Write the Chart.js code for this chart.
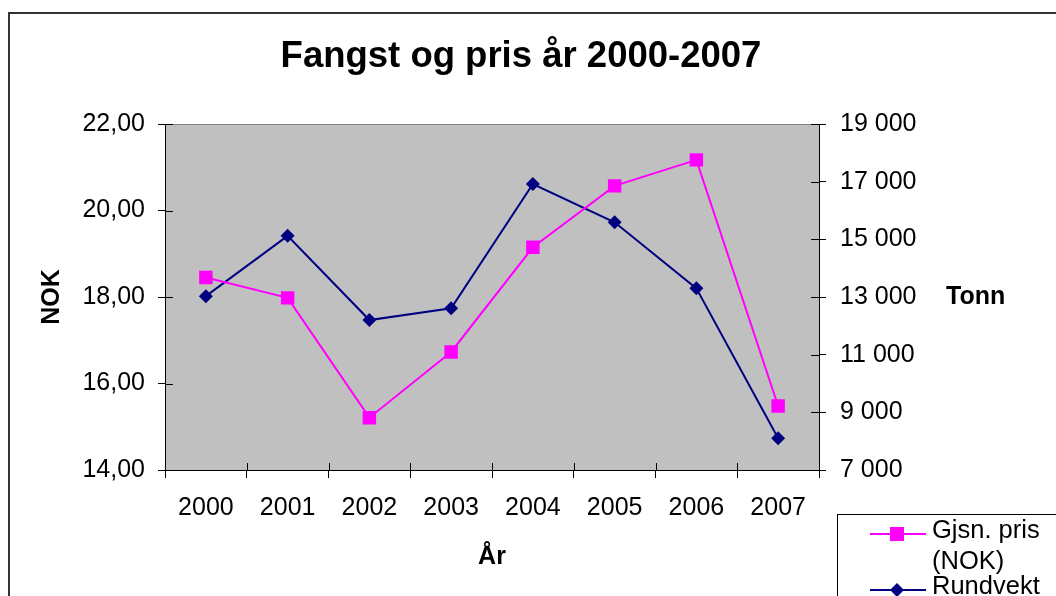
<!DOCTYPE html>
<html>
<head>
<meta charset="utf-8">
<script src="https://cdn.jsdelivr.net/npm/chart.js@4"></script>
<style>
  html, body { margin: 0; padding: 0; background: #fff; overflow: hidden; }
  #wrap { position: relative; width: 1056px; height: 596px; overflow: hidden; }
  #frame { position: absolute; left: 8px; top: 12px; width: 2000px; height: 2000px; border: 2px solid #333; }
  #fangstChart { position: absolute; left: 0; top: 0; }
</style>
</head>
<body>
<div id="wrap">
  <div id="frame"></div>
  <canvas id="fangstChart" width="1056" height="596"></canvas>
</div>
<script>
// Values
const years = ['2000', '2001', '2002', '2003', '2004', '2005', '2006', '2007'];
const avgPrice = [18.45, 17.98, 15.21, 16.73, 19.15, 20.57, 21.17, 15.48];   // NOK
const roundWeight = [13030, 15120, 12200, 12610, 16920, 15590, 13300, 8100]; // Tonn

const FONT = 'Arial, "Liberation Sans", sans-serif';

// grey plot area with a grey top edge
const plotBackground = {
    id: 'plotBackground',
    beforeDraw(chart) {
        const { ctx, chartArea: a } = chart;
        ctx.save();
        ctx.fillStyle = '#c0c0c0';
        ctx.fillRect(a.left, a.top, a.right - a.left, a.bottom - a.top);
        ctx.strokeStyle = '#808080';
        ctx.lineWidth = 1;
        ctx.beginPath();
        ctx.moveTo(a.left, a.top + 0.5);
        ctx.lineTo(a.right, a.top + 0.5);
        ctx.stroke();
        ctx.restore();
    }
};

// tick marks that also cross into the plot, "Tonn" label and the legend box
const extras = {
    id: 'extras',
    afterDraw(chart) {
        const { ctx, chartArea: a, scales } = chart;
        ctx.save();
        ctx.strokeStyle = '#000';
        ctx.lineWidth = 1;
        ctx.beginPath();
        scales.y.ticks.forEach((t, i) => {
            const py = Math.round(scales.y.getPixelForTick(i)) + 0.5;
            ctx.moveTo(a.left, py); ctx.lineTo(a.left + 8, py);
        });
        scales.y1.ticks.forEach((t, i) => {
            const py = Math.round(scales.y1.getPixelForTick(i)) + 0.5;
            ctx.moveTo(a.right - 8, py); ctx.lineTo(a.right, py);
        });
        const step = (a.right - a.left) / years.length;
        for (let i = 0; i <= years.length; i++) {
            const px = Math.round(a.left + i * step) + 0.5;
            ctx.moveTo(px, a.bottom - 7); ctx.lineTo(px, a.bottom);
        }
        ctx.stroke();

        ctx.fillStyle = '#000';
        ctx.font = 'bold 25px ' + FONT;
        ctx.textBaseline = 'middle';
        ctx.textAlign = 'left';
        ctx.fillText('Tonn', 946, scales.y1.getPixelForValue(13000));

        // legend
        const lx = 837, ly = 514;
        ctx.fillStyle = '#fff';
        ctx.fillRect(lx, ly, 300, 200);
        ctx.strokeStyle = '#000';
        ctx.strokeRect(lx + 0.5, ly + 0.5, 300, 200);

        const ds = chart.data.datasets;
        const rows = [
            { d: ds[0], y: 534, lines: ['Gjsn. pris', '(NOK)'] },
            { d: ds[1], y: 590, lines: ['Rundvekt'] }
        ];
        rows.forEach(r => {
            ctx.strokeStyle = r.d.borderColor;
            ctx.lineWidth = 2;
            ctx.beginPath();
            ctx.moveTo(870, r.y); ctx.lineTo(926, r.y);
            ctx.stroke();
            ctx.fillStyle = r.d.pointBackgroundColor;
            if (r.d.pointStyle === 'rect') {
                ctx.fillRect(890, r.y - 7, 14, 14);
            } else {
                ctx.beginPath();
                ctx.moveTo(897, r.y - 7); ctx.lineTo(904, r.y);
                ctx.lineTo(897, r.y + 7); ctx.lineTo(890, r.y);
                ctx.closePath(); ctx.fill();
            }
            ctx.fillStyle = '#000';
            ctx.font = '25.5px ' + FONT;
            r.lines.forEach((txt, k) => ctx.fillText(txt, 932, r.y - 3 + k * 31));
        });
        ctx.restore();
    }
};

const ctx = document.getElementById('fangstChart').getContext('2d');
new Chart(ctx, {
    type: 'line',
    data: {
        labels: years,
        datasets: [
            {
                label: 'Gjsn. pris (NOK)',
                data: avgPrice,
                yAxisID: 'y',
                borderColor: '#ff00ff',
                backgroundColor: '#ff00ff',
                pointBackgroundColor: '#ff00ff',
                pointBorderColor: '#ff00ff',
                borderWidth: 2,
                pointStyle: 'rect',
                pointRadius: 9.5,
                pointBorderWidth: 0,
                tension: 0
            },
            {
                label: 'Rundvekt',
                data: roundWeight,
                yAxisID: 'y1',
                borderColor: '#000080',
                backgroundColor: '#000080',
                pointBackgroundColor: '#000080',
                pointBorderColor: '#000080',
                borderWidth: 2,
                pointStyle: 'rectRot',
                pointRadius: 7,
                pointBorderWidth: 0,
                tension: 0
            }
        ]
    },
    options: {
        responsive: false,
        animation: false,
        layout: { padding: { left: 0, right: 14, top: 0, bottom: 0 } },
        plugins: {
            legend: { display: false },
            tooltip: { enabled: false },
            title: {
                display: true,
                text: 'Fangst og pris år 2000-2007',
                color: '#000',
                font: { family: FONT, size: 36.5, weight: 'bold', lineHeight: 1.2 },
                padding: { top: 35, bottom: 45.2 }
            }
        },
        scales: {
            x: {
                offset: true,
                grid: { offset: true, drawOnChartArea: false, tickLength: 8, color: '#000' },
                border: { display: true, color: '#000', width: 1 },
                ticks: { color: '#000', padding: 15, font: { family: FONT, size: 25 } },
                title: {
                    display: true, text: 'År', color: '#000',
                    font: { family: FONT, size: 25, weight: 'bold', lineHeight: 1.2 },
                    padding: { top: 0, bottom: 24 }
                },
                afterFit(scale) { scale.height = 126; }
            },
            y: {
                position: 'left',
                min: 14, max: 22,
                grid: { drawOnChartArea: false, tickLength: 7, color: '#000' },
                border: { display: true, color: '#000', width: 1 },
                ticks: {
                    stepSize: 2, color: '#000', padding: 13,
                    font: { family: FONT, size: 25 },
                    callback: v => v.toFixed(2).replace('.', ',')
                },
                title: {
                    display: true, text: 'NOK', color: '#000',
                    font: { family: FONT, size: 25, weight: 'bold', lineHeight: 1.2 },
                    padding: { top: 37, bottom: 0 }
                },
                afterFit(scale) { scale.width = 165; }
            },
            y1: {
                position: 'right',
                min: 7000, max: 19000,
                grid: { drawOnChartArea: false, tickLength: 7, color: '#000' },
                border: { display: true, color: '#000', width: 1 },
                ticks: {
                    stepSize: 2000, color: '#000', padding: 14,
                    font: { family: FONT, size: 25 },
                    callback: v => {
                        const s = String(Math.round(v));
                        return s.length > 3 ? s.slice(0, -3) + ' ' + s.slice(-3) : s;
                    }
                },
                afterFit(scale) { scale.width = 223; }
            }
        }
    },
    plugins: [plotBackground, extras]
});
</script>
</body>
</html>
